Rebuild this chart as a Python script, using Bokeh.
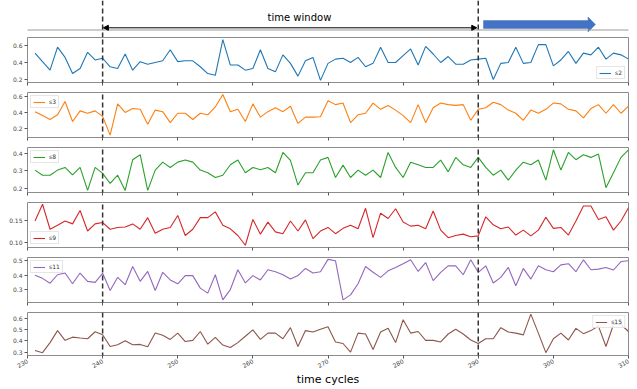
from bokeh.plotting import figure
from bokeh.layouts import column
from bokeh.models import (Range1d, FixedTicker, Span, Arrow, NormalHead,
                          Legend, LegendItem, NumeralTickFormatter)
from bokeh.embed import file_html
from bokeh.resources import INLINE

# ---------------- data ----------------
cycles = list(range(231, 311))

s2 = [0.51, 0.41, 0.31, 0.58, 0.46, 0.27, 0.33, 0.52, 0.43, 0.45,
      0.35, 0.33, 0.50, 0.31, 0.41, 0.38, 0.40, 0.42, 0.55, 0.41,
      0.42, 0.42, 0.35, 0.27, 0.25, 0.67, 0.37, 0.37, 0.31, 0.33,
      0.55, 0.33, 0.29, 0.49, 0.39, 0.24, 0.42, 0.46, 0.19,
      0.39, 0.44, 0.45, 0.40, 0.46, 0.35, 0.39, 0.58, 0.40, 0.40,
      0.48, 0.56, 0.37, 0.59, 0.50, 0.40, 0.47, 0.38, 0.38, 0.43,
      0.44, 0.45, 0.20, 0.39, 0.40, 0.58, 0.39, 0.40, 0.61, 0.61,
      0.36, 0.43, 0.53, 0.39, 0.51, 0.49, 0.58, 0.44, 0.51, 0.49,
      0.44]

s3 = [0.41, 0.36, 0.31, 0.37, 0.54, 0.285, 0.42, 0.39, 0.42, 0.35,
      0.11, 0.51, 0.40, 0.45, 0.44, 0.25, 0.43, 0.41, 0.27, 0.39,
      0.39, 0.31, 0.39, 0.37, 0.47, 0.63, 0.41, 0.44, 0.285, 0.51,
      0.34, 0.41, 0.46, 0.41, 0.48, 0.26, 0.34, 0.34, 0.345,
      0.55, 0.50, 0.52, 0.27, 0.37, 0.39, 0.52, 0.44, 0.49, 0.43,
      0.36, 0.27, 0.50, 0.27, 0.46, 0.52, 0.50, 0.49, 0.50, 0.30,
      0.44, 0.46, 0.53, 0.50, 0.43, 0.39, 0.30, 0.43, 0.39, 0.44,
      0.52, 0.51, 0.44, 0.42, 0.33, 0.45, 0.50, 0.39, 0.50, 0.39,
      0.48]

s8 = [0.305, 0.276, 0.276, 0.305, 0.32, 0.278, 0.32, 0.19, 0.32, 0.286,
      0.23, 0.276, 0.19, 0.364, 0.392, 0.19, 0.305, 0.35, 0.32, 0.35,
      0.362, 0.35, 0.305, 0.29, 0.263, 0.276, 0.335, 0.362, 0.29, 0.32,
      0.307, 0.32, 0.29, 0.405, 0.36, 0.22, 0.29, 0.29, 0.362,
      0.377, 0.263, 0.333, 0.263, 0.305, 0.276, 0.305, 0.263, 0.405, 0.32,
      0.263, 0.35, 0.335, 0.32, 0.32, 0.362, 0.295, 0.377, 0.335, 0.32,
      0.377, 0.32, 0.276, 0.305, 0.248, 0.305, 0.35, 0.335, 0.362, 0.248,
      0.42, 0.305, 0.405, 0.364, 0.392, 0.377, 0.396, 0.205, 0.29, 0.377,
      0.42]

s9 = [0.1485, 0.186, 0.13, 0.139, 0.1485, 0.142, 0.172, 0.126, 0.142, 0.145,
      0.13, 0.134, 0.135, 0.142, 0.13, 0.156, 0.121, 0.13, 0.134, 0.161,
      0.116, 0.13, 0.156, 0.156, 0.169, 0.139, 0.131, 0.116, 0.094, 0.152,
      0.119, 0.146, 0.124, 0.12, 0.1485, 0.126, 0.151, 0.109, 0.126,
      0.134, 0.12, 0.132, 0.139, 0.131, 0.177, 0.111, 0.166, 0.154, 0.176,
      0.146, 0.137, 0.139, 0.131, 0.171, 0.128, 0.111, 0.116, 0.119, 0.113,
      0.115, 0.158, 0.14, 0.131, 0.135, 0.117, 0.128, 0.115, 0.128, 0.157,
      0.132, 0.134, 0.117, 0.1485, 0.182, 0.182, 0.152, 0.158, 0.128, 0.1485,
      0.178]

s11 = [0.40, 0.378, 0.344, 0.403, 0.415, 0.34, 0.415, 0.357, 0.35, 0.413,
       0.293, 0.385, 0.334, 0.46, 0.357, 0.426, 0.293, 0.42, 0.367, 0.34,
       0.397, 0.397, 0.31, 0.275, 0.403, 0.228, 0.30, 0.438, 0.346, 0.397,
       0.367, 0.438, 0.424, 0.403, 0.373, 0.397, 0.447, 0.415, 0.424,
       0.51, 0.50, 0.228, 0.263, 0.34, 0.46, 0.42, 0.385, 0.43, 0.454,
       0.48, 0.507, 0.426, 0.488, 0.362, 0.42, 0.465, 0.465, 0.403, 0.507,
       0.42, 0.465, 0.346, 0.385, 0.454, 0.327, 0.447, 0.373, 0.465, 0.438,
       0.424, 0.472, 0.48, 0.424, 0.507, 0.438, 0.442, 0.454, 0.436, 0.495,
       0.50]

s15 = [0.314, 0.295, 0.384, 0.49, 0.404, 0.432, 0.424, 0.418, 0.48, 0.454,
       0.35, 0.365, 0.40, 0.365, 0.368, 0.348, 0.468, 0.449, 0.412, 0.468,
       0.393, 0.404, 0.482, 0.37, 0.43, 0.362, 0.34, 0.384, 0.44, 0.496,
       0.412, 0.468, 0.468, 0.418, 0.516, 0.35, 0.49, 0.477, 0.502,
       0.524, 0.39, 0.376, 0.30, 0.468, 0.46, 0.323, 0.477, 0.51, 0.384,
       0.586, 0.468, 0.482, 0.404, 0.404, 0.39, 0.46, 0.502, 0.46, 0.407,
       0.376, 0.418, 0.418, 0.516, 0.477, 0.468, 0.452, 0.636, 0.468, 0.295,
       0.418, 0.468, 0.407, 0.51, 0.463, 0.49, 0.53, 0.35, 0.544, 0.544,
       0.482]

names = ["s2", "s3", "s8", "s9", "s11", "s15"]
values = [s2, s3, s8, s9, s11, s15]
colors = ["#1f77b4", "#ff7f0e", "#2ca02c", "#d62728", "#9467bd", "#8c564b"]
y_limits = [(0.165, 0.694), (0.08, 0.655), (0.178, 0.433),
            (0.089, 0.19), (0.21, 0.523), (0.27, 0.65)]
y_ticks = [[0.2, 0.4, 0.6], [0.2, 0.4, 0.6], [0.2, 0.3, 0.4],
           [0.10, 0.15], [0.3, 0.4, 0.5], [0.3, 0.4, 0.5, 0.6]]
y_formats = ["0.0", "0.0", "0.0", "0.00", "0.0", "0.0"]
legend_locs = ["bottom_right", "top_left", "top_left", "bottom_left", "top_left", "top_right"]
x_ticks = [230, 240, 250, 260, 270, 280, 290, 300, 310]
x_limits = (230, 310)
window_start, window_end = 240, 290
forecast_start, forecast_end = 290.7, 305.6
window_label = "time window"
window_label_x = 266.2
x_label = "time cycles"

# ---------------- layout ----------------
W = 637
LEFT, RIGHT = 27, 9
FRAME_W = W - LEFT - RIGHT
FRAME_H = 45
GAP = 10
TOP_H = 37
LAST_BOTTOM = 32
FONT = "DejaVu Sans"
DASH = dict(line_dash="5 3", line_color="#333333", line_width=1.5)

X0, X1 = x_limits
xpp = (X1 - X0) / FRAME_W

# ---- top annotation strip (frame aligned with the panels) ----
top = figure(width=W, height=TOP_H,
             x_range=Range1d(X0, X1), y_range=Range1d(0, TOP_H),
             output_backend="svg", toolbar_location=None,
             x_axis_location=None, y_axis_location=None,
             min_border_left=LEFT, min_border_right=RIGHT,
             min_border_top=0, min_border_bottom=0, outline_line_color=None)
top.grid.visible = False

# thin separator line across the whole page width
top.add_layout(Arrow(x_start=X0 - (LEFT - 4) * xpp, x_end=X1 + RIGHT * xpp,
                     y_start=7.5, y_end=7.5, end=None,
                     line_color="#9a9a9a", line_width=1))
for xv in (window_start, window_end):
    top.add_layout(Span(location=xv, dimension="height", **DASH))

top.add_layout(Arrow(x_start=window_start + 0.1, x_end=window_end - 0.2, y_start=9.7, y_end=9.7,
                     line_color="black", line_width=1,
                     start=NormalHead(size=5, fill_color="black", line_color="black", line_width=1),
                     end=NormalHead(size=5, fill_color="black", line_color="black", line_width=1)))

top.text(x=[window_label_x], y=[20.5], text=[window_label],
         text_align="center", text_baseline="middle", text_font_size="10px",
         text_color="black", text_font={"value": FONT})

head_len = (forecast_end - forecast_start) * 0.066
xh = forecast_end - head_len
top.patch(x=[forecast_start, xh, xh, forecast_end, xh, xh, forecast_start],
          y=[9.1, 9.1, 5.5, 13, 20.5, 16.9, 16.9],
          fill_color="#4472C4", line_color="#4472C4", line_width=0.5)

# ---- panels ----
panels = [top]
n = len(names)
for i in range(n):
    last = i == n - 1
    lo, hi = y_limits[i]
    bb = LAST_BOTTOM if last else GAP
    p = figure(width=W, height=FRAME_H + bb,
               x_range=Range1d(X0, X1), y_range=Range1d(lo, hi),
               output_backend="svg", toolbar_location=None,
               min_border_left=LEFT, min_border_right=RIGHT,
               min_border_top=0, min_border_bottom=bb,
               outline_line_color="#8c8c8c", outline_line_width=1)
    p.grid.visible = False
    r = p.line(cycles, values[i], line_color=colors[i], line_width=1.1)

    for ax in (p.xaxis[0], p.yaxis[0]):
        ax.axis_line_color = None
        ax.major_tick_out = 3
        ax.major_tick_in = 0
        ax.minor_tick_out = 0
        ax.minor_tick_in = 0
        ax.major_tick_line_color = "#555555"
        ax.major_label_text_font = FONT
        ax.major_label_text_color = "#444444"
        ax.major_label_text_font_size = "6px"
        ax.major_label_standoff = 2

    p.xaxis.ticker = FixedTicker(ticks=x_ticks)
    p.yaxis.ticker = FixedTicker(ticks=y_ticks[i])
    p.yaxis.formatter = NumeralTickFormatter(format=y_formats[i])
    if last:
        p.xaxis.major_label_orientation = 0.5
        p.xaxis.axis_label = x_label
        p.xaxis.axis_label_text_font = FONT
        p.xaxis.axis_label_text_font_style = "normal"
        p.xaxis.axis_label_text_font_size = "11px"
        p.xaxis.axis_label_text_color = "black"
        p.xaxis.axis_label_standoff = 0
    else:
        p.xaxis.major_label_text_font_size = "4px"
        p.xaxis.major_label_text_color = None
        p.xaxis.major_label_standoff = 0

    leg = Legend(items=[LegendItem(label=names[i], renderers=[r])],
                 location=legend_locs[i], label_text_font_size="6px",
                 label_text_font=FONT, label_text_color="#333333",
                 glyph_width=12, glyph_height=6, label_height=6, label_width=4,
                 label_standoff=4, padding=2, margin=3, spacing=0,
                 border_line_color="#cccccc", border_line_width=1,
                 background_fill_alpha=0.85)
    p.add_layout(leg)

    ext_below = (2 if last else GAP) / FRAME_H * (hi - lo)
    for xv in (window_start, window_end):
        p.add_layout(Arrow(x_start=xv, x_end=xv, y_start=lo - ext_below, y_end=hi,
                           end=None, **DASH))
    panels.append(p)

layout = column(*panels, spacing=0)
open("out.html", "w").write(file_html(layout, INLINE))
